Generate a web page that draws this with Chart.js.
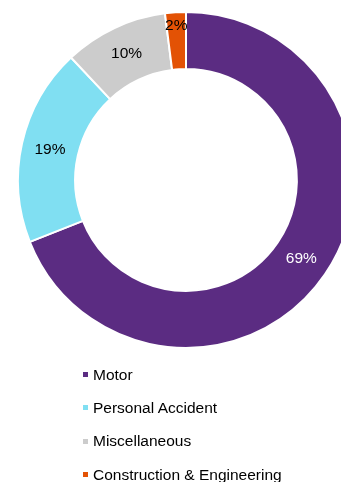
<!DOCTYPE html>
<html>
<head>
<meta charset="utf-8">
<script src="https://cdn.jsdelivr.net/npm/chart.js@4/dist/chart.umd.min.js"></script>
<style>
  html, body { margin: 0; padding: 0; background: #fff; overflow: hidden; width: 341px; height: 482px; }
  #wrap { position: absolute; left: 0; top: 0; width: 372px; height: 360px; }
  #legend { position: absolute; left: 83px; top: 358px; font-family: "Liberation Sans", Arial, sans-serif; font-size: 15.5px; color: #000; }
  .item { height: 33.3px; display: flex; align-items: center; position: relative; white-space: nowrap; }
  .item span.box { display: inline-block; width: 5px; height: 5px; margin-right: 5px; }
</style>
</head>
<body>
<div id="wrap"><canvas id="c" width="372" height="360"></canvas></div>
<div id="legend"></div>
<script>
const categories = ["Motor", "Personal Accident", "Miscellaneous", "Construction & Engineering"];
const shares = [69, 19, 10, 2];
const sliceColors = ["#5B2C82", "#80DFF2", "#CCCCCC", "#E35205"];
const labelColors = ["#FFFFFF", "#000000", "#000000", "#000000"];

const pctLabels = {
  id: 'pctLabels',
  afterDatasetsDraw(chart) {
    const ctx = chart.ctx;
    const meta = chart.getDatasetMeta(0);
    const total = shares.reduce((a, b) => a + b, 0);
    ctx.save();
    ctx.font = '15.5px "Liberation Sans", Arial, sans-serif';
    ctx.textAlign = 'center';
    ctx.textBaseline = 'middle';
    meta.data.forEach((arc, i) => {
      const p = arc.getProps(['x', 'y', 'startAngle', 'endAngle', 'innerRadius', 'outerRadius'], true);
      const mid = (p.startAngle + p.endAngle) / 2;
      let r = (p.innerRadius + p.outerRadius) / 2;
      if (shares[i] / total < 0.05) r = p.outerRadius - 13;
      const x = p.x + Math.cos(mid) * r;
      const y = p.y + Math.sin(mid) * r;
      ctx.fillStyle = labelColors[i];
      ctx.fillText(shares[i] + '%', x, y);
    });
    ctx.restore();
  }
};

new Chart(document.getElementById('c'), {
  type: 'doughnut',
  data: {
    labels: categories,
    datasets: [{
      data: shares,
      backgroundColor: sliceColors,
      borderColor: '#FFFFFF',
      borderWidth: 2
    }]
  },
  options: {
    responsive: false,
    animation: false,
    cutout: '66%',
    layout: { padding: { top: 11, bottom: 11, left: 17, right: 17 } },
    plugins: {
      legend: { display: false },
      tooltip: { enabled: false }
    }
  },
  plugins: [pctLabels]
});

const lg = document.getElementById('legend');
categories.forEach((name, i) => {
  const d = document.createElement('div');
  d.className = 'item';
  const b = document.createElement('span');
  b.className = 'box';
  b.style.background = sliceColors[i];
  d.appendChild(b);
  d.appendChild(document.createTextNode(name));
  lg.appendChild(d);
});
</script>
</body>
</html>
